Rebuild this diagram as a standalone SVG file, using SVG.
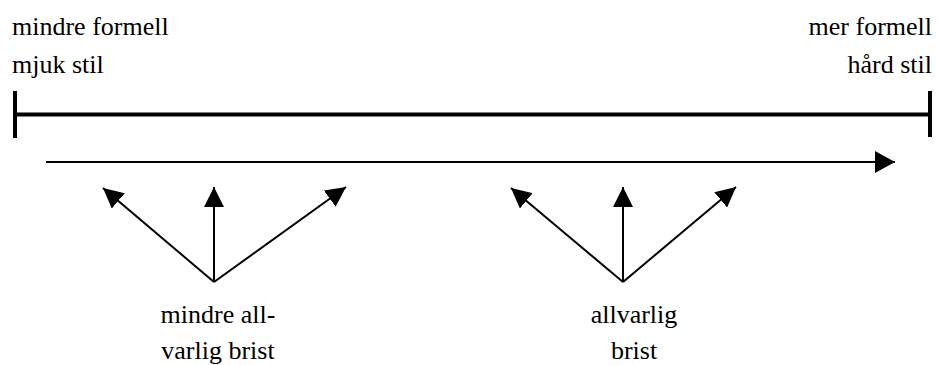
<svg xmlns="http://www.w3.org/2000/svg" width="937" height="365" viewBox="0 0 937 365">
<defs>
<marker id="ah" viewBox="0 0 20 20" refX="20" refY="10" markerWidth="20" markerHeight="20" markerUnits="userSpaceOnUse" orient="auto">
<path d="M0,0 L20,10 L0,20 Z" fill="#000"/>
</marker>
<marker id="ahl" viewBox="0 0 20 22" refX="20" refY="11" markerWidth="20" markerHeight="22" markerUnits="userSpaceOnUse" orient="auto">
<path d="M0,0 L20,11 L0,22 Z" fill="#000"/>
</marker>
</defs>
<g id="scale" stroke="#000" stroke-width="4" fill="none">
<line x1="15" y1="114.5" x2="930" y2="114.5"/>
<line x1="15" y1="91" x2="15" y2="138"/>
<line x1="930" y1="91" x2="930" y2="137"/>
</g>
<g id="labels-top">
<text x="12" y="35" font-family="Liberation Serif" font-size="26">mindre formell</text>
<text x="12" y="73" font-family="Liberation Serif" font-size="26">mjuk stil</text>
<text x="932" y="35" font-family="Liberation Serif" font-size="26" text-anchor="end">mer formell</text>
<text x="932" y="73" font-family="Liberation Serif" font-size="26" text-anchor="end">hård stil</text>
</g>
<g id="connectors" stroke="#000" stroke-width="2" fill="none">
<line x1="46" y1="162" x2="895" y2="162" marker-end="url(#ahl)"/>
<line x1="214" y1="282" x2="103" y2="188" marker-end="url(#ah)"/>
<line x1="214" y1="282" x2="214" y2="187" marker-end="url(#ah)"/>
<line x1="214" y1="282" x2="346" y2="187" marker-end="url(#ah)"/>
<line x1="623" y1="282" x2="511" y2="188" marker-end="url(#ah)"/>
<line x1="623" y1="282" x2="623" y2="187" marker-end="url(#ah)"/>
<line x1="623" y1="282" x2="736" y2="187" marker-end="url(#ah)"/>
</g>
<g id="label-left">
<text x="218" y="323" font-family="Liberation Serif" font-size="26" text-anchor="middle">mindre all-</text>
<text x="218" y="359" font-family="Liberation Serif" font-size="26" text-anchor="middle">varlig brist</text>
</g>
<g id="label-right">
<text x="634" y="323" font-family="Liberation Serif" font-size="26" text-anchor="middle">allvarlig</text>
<text x="634" y="359" font-family="Liberation Serif" font-size="26" text-anchor="middle">brist</text>
</g>
</svg>
